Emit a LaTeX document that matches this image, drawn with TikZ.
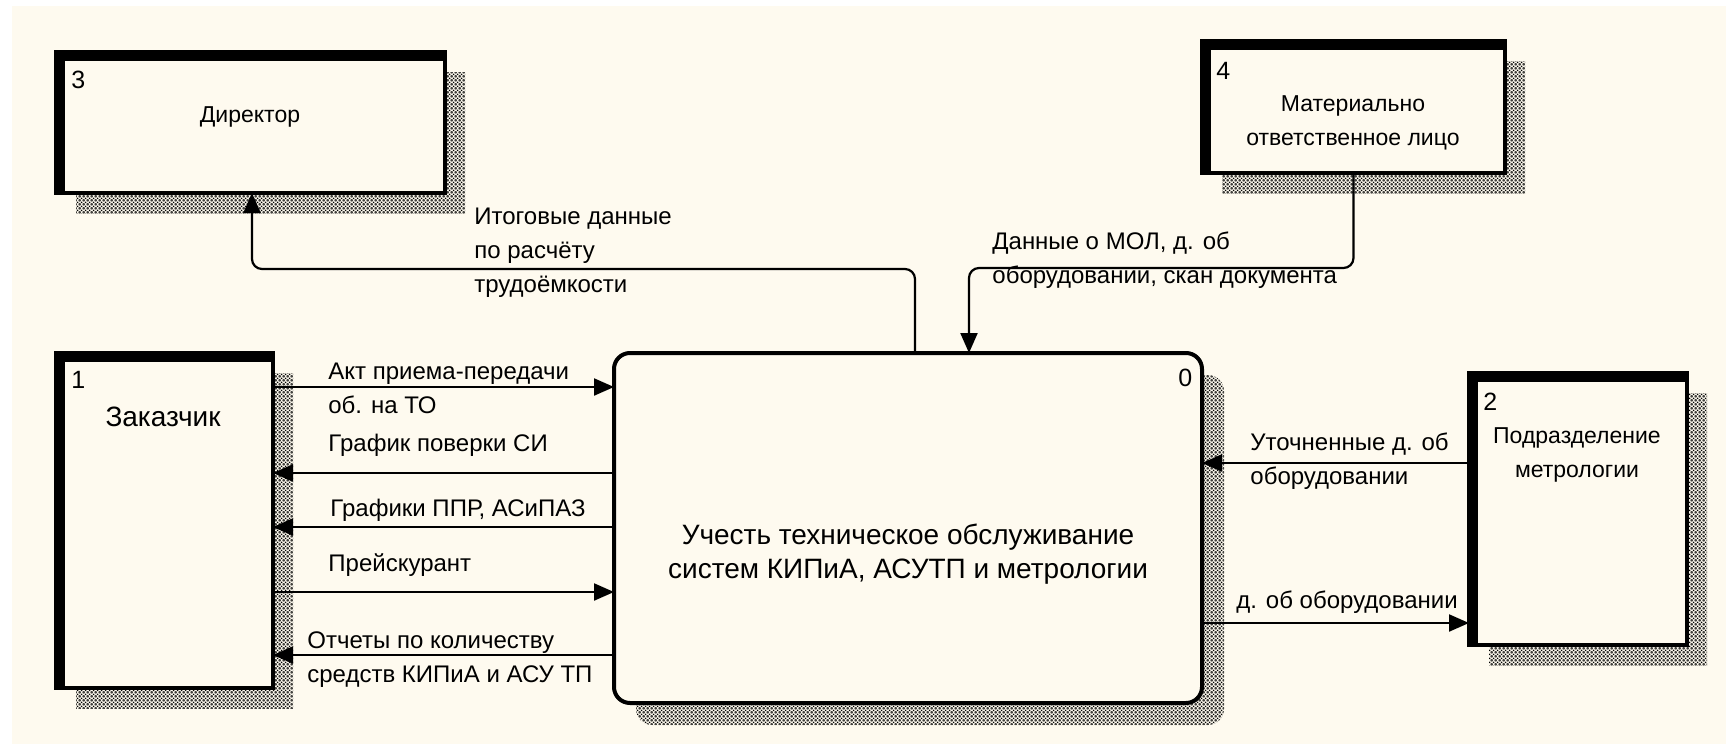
\documentclass[tikz,border=0pt]{standalone}
\usepackage{fontspec}
\setmainfont{Liberation Sans}
\usetikzlibrary{arrows.meta,shadows,patterns}

\definecolor{paper}{RGB}{254,250,239}

% fine dotted fill for the shadows
\pgfdeclarepatternformonly{shadedots}{\pgfpointorigin}{\pgfqpoint{2pt}{2pt}}{\pgfqpoint{2pt}{2pt}}{%
  \pgfpathcircle{\pgfqpoint{0pt}{0pt}}{.5pt}
  \pgfpathcircle{\pgfqpoint{1pt}{1pt}}{.5pt}
  \pgfpathcircle{\pgfqpoint{2pt}{0pt}}{.5pt}
  \pgfpathcircle{\pgfqpoint{0pt}{2pt}}{.5pt}
  \pgfpathcircle{\pgfqpoint{2pt}{2pt}}{.5pt}
  \pgfusepath{fill}}

\tikzset{
  ext/.style={draw, line width=1.75pt, fill=paper, inner sep=0pt, outer sep=0pt,
    drop shadow={shadow xshift=10pt, shadow yshift=-10pt, opacity=1,
      pattern=shadedots, pattern color=black},
    path picture={
      \fill [black] (path picture bounding box.north west) rectangle ([yshift=-4.5pt]path picture bounding box.north east);
      \fill [black] (path picture bounding box.north west) rectangle ([xshift=4.5pt]path picture bounding box.south west);}},
  proc/.style={draw, line width=2pt, fill=paper, rounded corners=8pt, inner sep=0pt, outer sep=0pt,
    drop shadow={shadow xshift=11pt, shadow yshift=-11pt, opacity=1,
      pattern=shadedots, pattern color=black}},
  flow/.style={-{Triangle[length=10pt,width=8.5pt]}, line width=1.1pt},
  lbl/.style={inner sep=0pt, anchor=west, align=left, font=\fontsize{12}{17}\selectfont},
  boxtxt/.style={inner sep=0pt, align=center, font=\fontsize{11.5}{17}\selectfont},
  numtxt/.style={inner sep=0pt, anchor=west, font=\fontsize{12.5}{15}\selectfont},
  bigtxt/.style={inner sep=0pt, align=center, font=\fontsize{14}{17}\selectfont},
}

\begin{document}
\begin{tikzpicture}[x=0.5pt, y=-0.5pt]
  \useasboundingbox (0,0) rectangle (1726,744);
  \fill[white] (0,0) rectangle (1726,744);
  \fill[paper] (12,6) rectangle (1726,744);

  % external entities
  \node [ext, minimum width=194.5pt, minimum height=70.5pt] (dir) at (250.5,122.5) {};
  \node [ext, minimum width=151.5pt, minimum height=66pt] (mol) at (1353.5,107) {};
  \node [ext, minimum width=108.5pt, minimum height=167.5pt] (cust) at (164.5,520.5) {};
  \node [ext, minimum width=109pt, minimum height=136pt] (metr) at (1578,509) {};
  % process
  \node [proc, minimum width=294pt, minimum height=175pt] (sys) at (908,528) {};

  \node [numtxt] (dirnum) at (71,80) {3};
  \node [boxtxt] (dirname) at (250,117) {Директор};
  \node [numtxt] (molnum) at (1216,71) {4};
  \node [boxtxt] (molname) at (1353,123) {Материально\\ответственное лицо};
  \node [numtxt] (custnum) at (71,380) {1};
  \node [bigtxt] (custname) at (163,417) {Заказчик};
  \node [numtxt] (metrnum) at (1483,402) {2};
  \node [boxtxt] (metrname) at (1577,454.5) {Подразделение\\метрологии};
  \node [numtxt] (sysnum) at (1178,378) {0};
  \node [bigtxt] (sysname) at (908,554) {Учесть техническое обслуживание\\систем КИПиА, АСУТП и метрологии};

  % flows
  \draw [flow, rounded corners=5pt] (sys.north -| 915,0) |- (252,269) -- (dir.south -| 252,0);
  \draw [flow, rounded corners=5pt] (mol.south) |- (969,268) -- (sys.north -| 969,0);
  \draw [flow] (cust.east |- 0,387) -- (sys.west |- 0,387);
  \draw [flow] (sys.west |- 0,473) -- (cust.east |- 0,473);
  \draw [flow] (sys.west |- 0,527) -- (cust.east |- 0,527);
  \draw [flow] (cust.east |- 0,592) -- (sys.west |- 0,592);
  \draw [flow] (sys.west |- 0,655) -- (cust.east |- 0,655);
  \draw [flow] (metr.west |- 0,463) -- (sys.east |- 0,463);
  \draw [flow] (sys.east |- 0,623) -- (metr.west |- 0,623);

  \node [lbl] (litog) at (474,253) {Итоговые данные\\по расчёту\\трудоёмкости};
  \node [lbl] (lmol) at (992,260) {Данные о МОЛ, д. об\\оборудовании, скан документа};
  \node [lbl] (lact) at (328,388) {Акт приема-передачи\\об. на ТО};
  \node [lbl] (lpov) at (328,445) {График поверки СИ};
  \node [lbl] (lppr) at (330,510) {Графики ППР, АСиПАЗ};
  \node [lbl] (lprice) at (328,565) {Прейскурант};
  \node [lbl] (lotch) at (307,660) {Отчеты по количеству\\средств КИПиА и АСУ ТП};
  \node [lbl] (lutoch) at (1250,461) {Уточненные д. об\\оборудовании};
  \node [lbl] (ldob) at (1236,602) {д. об оборудовании};
\end{tikzpicture}
\end{document}
